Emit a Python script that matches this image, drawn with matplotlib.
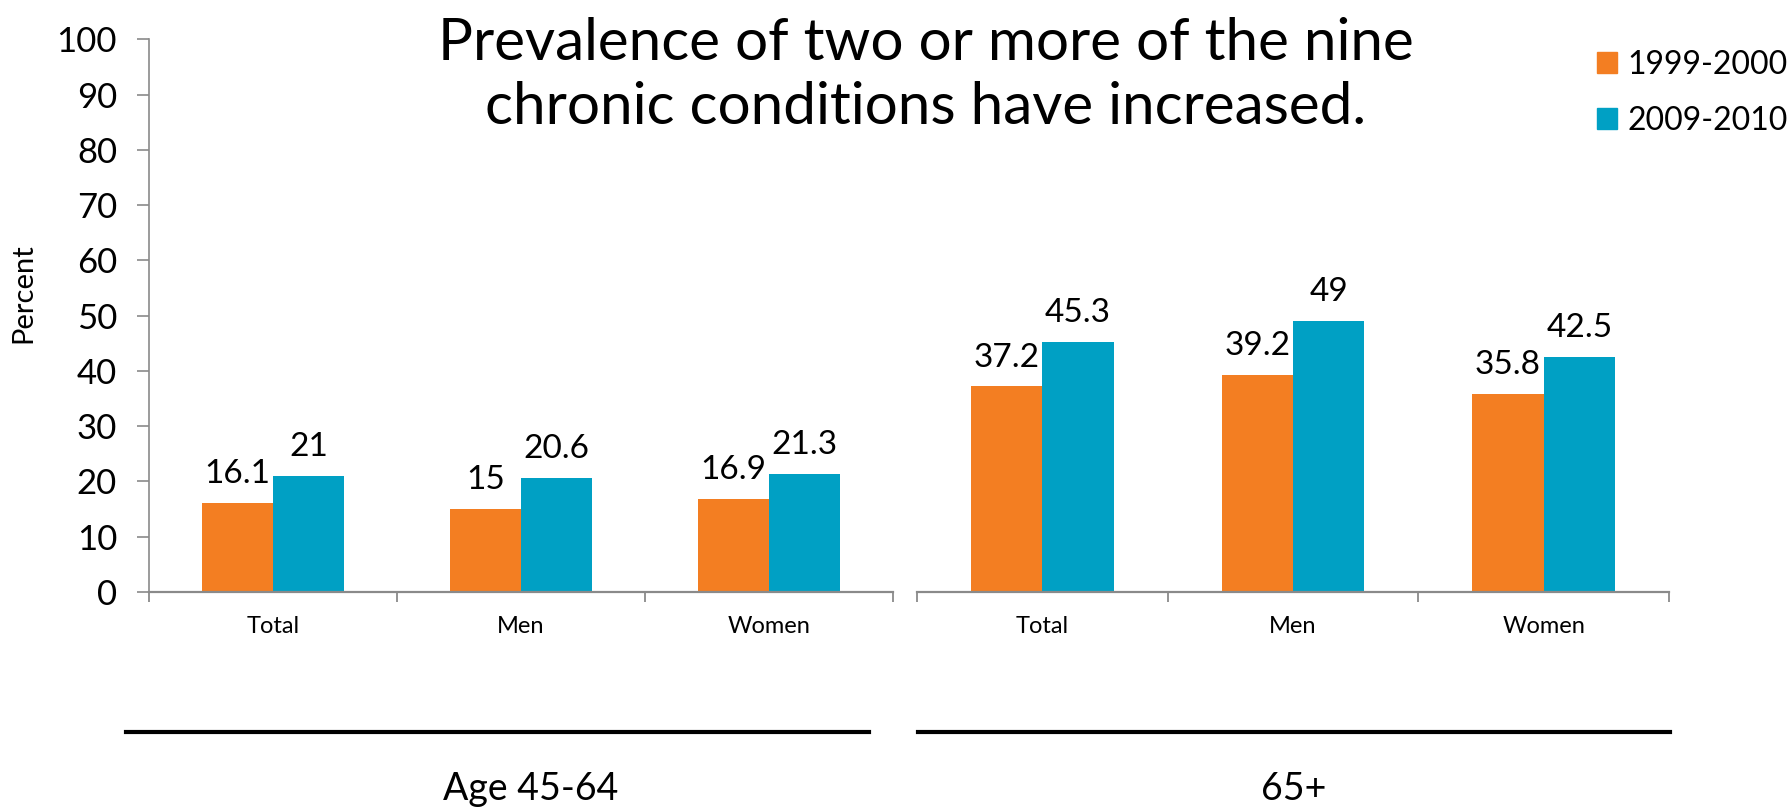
import matplotlib
matplotlib.use("Agg")
import matplotlib.pyplot as plt
import matplotlib.patches as mpatches
from matplotlib.lines import Line2D
import numpy as np

plt.rcParams["font.family"] = ["Lato", "DejaVu Sans"]

# data
groups = ["Age 45-64", "65+"]
categories = ["Total", "Men", "Women"]
series_names = ["1999-2000", "2009-2010"]
vals_4564_1999 = [16.1, 15.0, 16.9]
vals_4564_2009 = [21.0, 20.6, 21.3]
vals_65_1999 = [37.2, 39.2, 35.8]
vals_65_2009 = [45.3, 49.0, 42.5]
value_labels_4564 = [["16.1", "15", "16.9"], ["21", "20.6", "21.3"]]
value_labels_65 = [["37.2", "39.2", "35.8"], ["45.3", "49", "42.5"]]

ORANGE = "#F37E22"
BLUE = "#00A0C4"
GRAY = "#8A8A8A"

W, H = 1791, 808
fig = plt.figure(figsize=(W / 100, H / 100), dpi=100)


def px_axes(x0, x1, ytop, ybot):
    """Add axes from pixel box (image coords, y downwards)."""
    return fig.add_axes([x0 / W, (H - ybot) / H, (x1 - x0) / W, (ybot - ytop) / H])


ax_l = px_axes(149, 893, 39.3, 592)
ax_r = px_axes(917, 1669, 39.3, 592)

bar_w = 0.285
x = np.arange(len(categories)) + 0.5

for ax, v1, v2, labs in [
    (ax_l, vals_4564_1999, vals_4564_2009, value_labels_4564),
    (ax_r, vals_65_1999, vals_65_2009, value_labels_65),
]:
    b1 = ax.bar(x - bar_w / 2, v1, bar_w, color=ORANGE, label=series_names[0])
    b2 = ax.bar(x + bar_w / 2, v2, bar_w, color=BLUE, label=series_names[1])
    ax.bar_label(b1, labels=labs[0], padding=10, fontsize=24)
    ax.bar_label(b2, labels=labs[1], padding=10, fontsize=24)

    ax.set_xlim(0, 3)
    ax.set_ylim(0, 100)
    ax.set_xticks([0, 1, 2, 3])
    ax.set_xticklabels([])
    ax.set_xticks(x, minor=True)
    ax.set_xticklabels(categories, minor=True, fontsize=17)
    ax.tick_params(axis="x", which="major", length=7, width=1.3, color=GRAY, direction="out")
    ax.tick_params(axis="x", which="minor", length=0, pad=17)
    for s in ["top", "right"]:
        ax.spines[s].set_visible(False)
    ax.spines["bottom"].set_color(GRAY)
    ax.spines["bottom"].set_linewidth(1.6)

ax_l.set_yticks(np.arange(0, 101, 10))
ax_l.tick_params(axis="y", length=9, width=1.2, color=GRAY, labelsize=25, pad=14)
ax_l.spines["left"].set_color(GRAY)
ax_l.spines["left"].set_linewidth(1.2)
ax_l.set_ylabel("Percent", fontsize=21)
ax_l.yaxis.set_label_coords(-0.152, 0.54)

ax_r.spines["left"].set_visible(False)
ax_r.set_yticks([])

# title
fig.text(926 / W, 1 - 60 / H, "Prevalence of two or more of the nine",
         ha="center", va="baseline", fontsize=42)
fig.text(926 / W, 1 - 124 / H, "chronic conditions have increased.",
         ha="center", va="baseline", fontsize=42)

# legend
handles = [mpatches.Patch(color=ORANGE, label=series_names[0]),
           mpatches.Patch(color=BLUE, label=series_names[1])]
fig.legend(handles=handles, loc="upper left", bbox_to_anchor=(1597 / W, 1 - 50 / H),
           frameon=False, fontsize=23, handlelength=0.62, handleheight=0.62,
           handletextpad=0.33, labelspacing=0.8, borderpad=0, borderaxespad=0)

# group bracket lines and labels
for (x0, x1), name, xc in zip([(126, 869), (918, 1670)], groups, [531, 1294]):
    fig.add_artist(Line2D([x0 / W, x1 / W], [1 - 732 / H, 1 - 732 / H],
                          color="black", linewidth=3, transform=fig.transFigure))
    fig.text(xc / W, 1 - 800 / H, name, ha="center", va="baseline", fontsize=27)

fig.savefig("out.png", dpi=100)
